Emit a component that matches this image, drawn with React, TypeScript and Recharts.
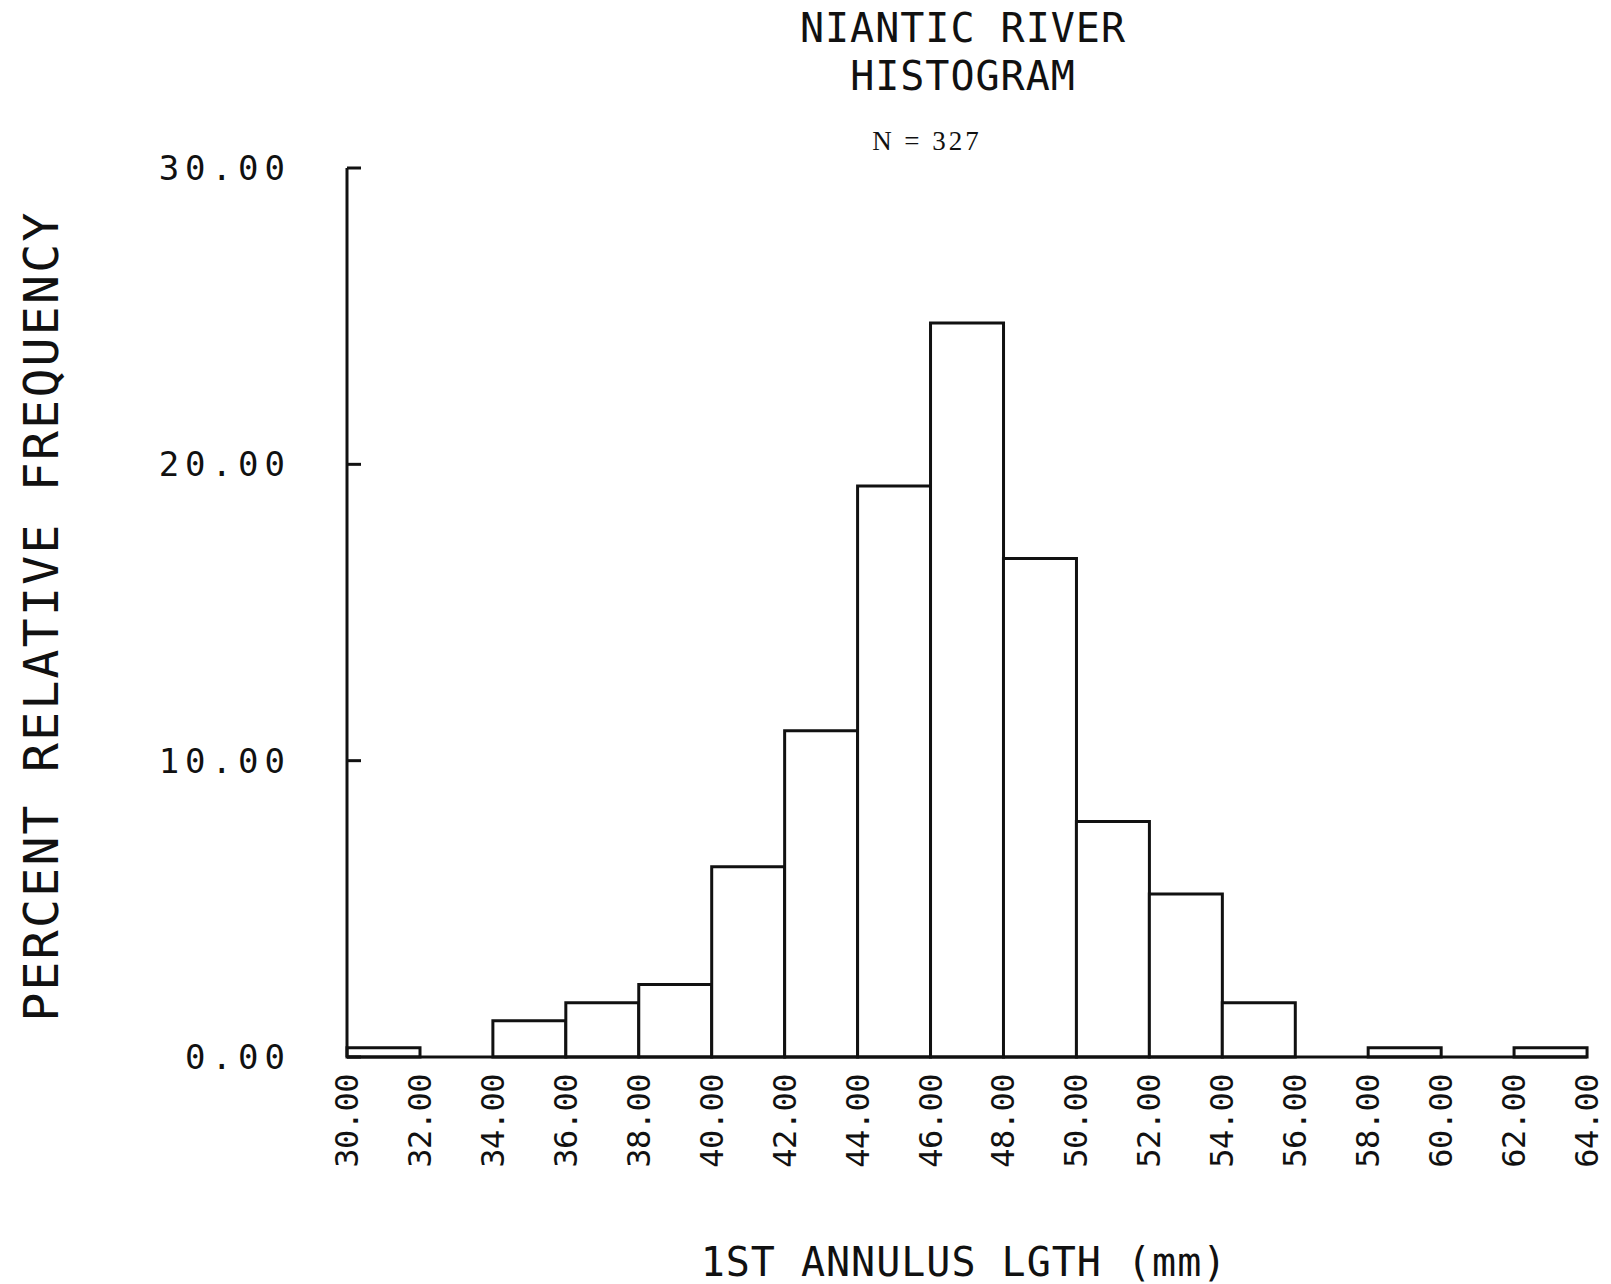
import React from 'react';
import { BarChart, Bar, XAxis, YAxis } from 'recharts';

// Bin lower edges (mm)
const binStarts = [30, 32, 34, 36, 38, 40, 42, 44, 46, 48, 50, 52, 54, 56, 58, 60, 62];
// Percent relative frequency per bin (N = 327)
const percentFrequency = [0.31, 0, 1.22, 1.83, 2.45, 6.42, 11.01, 19.27, 24.77, 16.82, 7.95, 5.5, 1.83, 0, 0.31, 0, 0.31];
// Tick values
const xTicks = [30, 32, 34, 36, 38, 40, 42, 44, 46, 48, 50, 52, 54, 56, 58, 60, 62, 64];
const yTicks = [0, 10, 20, 30];

const titleLines = ['NIANTIC RIVER', 'HISTOGRAM'];
const sampleLabel = 'N = 327';
const yTitle = 'PERCENT RELATIVE FREQUENCY';
const xTitle = '1ST ANNULUS LGTH (mm)';

const data = binStarts.map((b, i) => ({ bin: b, pct: percentFrequency[i] }));

const MONO = '"DejaVu Sans Mono", "Liberation Mono", monospace';
const INK = '#111';

const YTick = (props: any) => {
  const { x, y, payload } = props;
  return (
    <g>
      <line x1={x} x2={x + 14} y1={y} y2={y} stroke={INK} strokeWidth={3} />
      <text
        x={x - 56}
        y={y}
        textAnchor="end"
        dominantBaseline="central"
        fontFamily={MONO}
        fontSize={34}
        letterSpacing={6}
        fill={INK}
      >
        {Number(payload.value).toFixed(2)}
      </text>
    </g>
  );
};

const XTick = (props: any) => {
  const { x, y, payload } = props;
  const ty = y + 17;
  return (
    <text
      x={x}
      y={ty}
      transform={`rotate(-90 ${x} ${ty})`}
      textAnchor="end"
      dominantBaseline="central"
      fontFamily={MONO}
      fontSize={32}
      letterSpacing={-0.5}
      fill={INK}
    >
      {Number(payload.value).toFixed(2)}
    </text>
  );
};

export default function App() {
  return (
    <div style={{ position: 'absolute', left: 0, top: 0, width: 1611, height: 1284, background: '#fff' }}>
      <BarChart
        width={1611}
        height={1284}
        data={data}
        margin={{ top: 168, right: 24, bottom: 127, left: 247 }}
        barCategoryGap={0}
        barGap={0}
      >
        <XAxis xAxisId="bins" dataKey="bin" type="category" hide height={0} />
        <XAxis
          xAxisId="edges"
          dataKey="bin"
          type="number"
          domain={[30, 64]}
          allowDataOverflow
          ticks={xTicks}
          interval={0}
          height={100}
          tickSize={0}
          tickMargin={0}
          tickLine={false}
          axisLine={{ stroke: INK, strokeWidth: 3 }}
          tick={<XTick />}
        />
        <YAxis
          yAxisId="pct"
          type="number"
          domain={[0, 30]}
          ticks={yTicks}
          interval={0}
          width={100}
          tickSize={0}
          tickMargin={0}
          tickLine={false}
          axisLine={{ stroke: INK, strokeWidth: 3 }}
          tick={<YTick />}
        />
        <Bar
          xAxisId="bins"
          yAxisId="pct"
          dataKey="pct"
          fill="#fff"
          stroke={INK}
          strokeWidth={3}
          isAnimationActive={false}
        />
      </BarChart>
      <svg
        width={1611}
        height={1284}
        style={{ position: 'absolute', left: 0, top: 0, pointerEvents: 'none' }}
      >
        <text x={963} y={28} textAnchor="middle" dominantBaseline="central" fontFamily={MONO} fontSize={40} letterSpacing={1} fill={INK}>
          {titleLines[0]}
        </text>
        <text x={963} y={76} textAnchor="middle" dominantBaseline="central" fontFamily={MONO} fontSize={40} letterSpacing={1} fill={INK}>
          {titleLines[1]}
        </text>
        <text x={927} y={141} textAnchor="middle" dominantBaseline="central" fontFamily='"Liberation Serif", serif' fontSize={27} letterSpacing={3} fill={INK}>
          {sampleLabel}
        </text>
        <text
          x={41}
          y={616}
          transform="rotate(-90 41 616)"
          textAnchor="middle"
          dominantBaseline="central"
          fontFamily={MONO}
          fontSize={48}
          letterSpacing={2.3}
          fill={INK}
        >
          {yTitle}
        </text>
        <text x={964} y={1262} textAnchor="middle" dominantBaseline="central" fontFamily={MONO} fontSize={40} letterSpacing={1} fill={INK}>
          {xTitle}
        </text>
      </svg>
    </div>
  );
}
